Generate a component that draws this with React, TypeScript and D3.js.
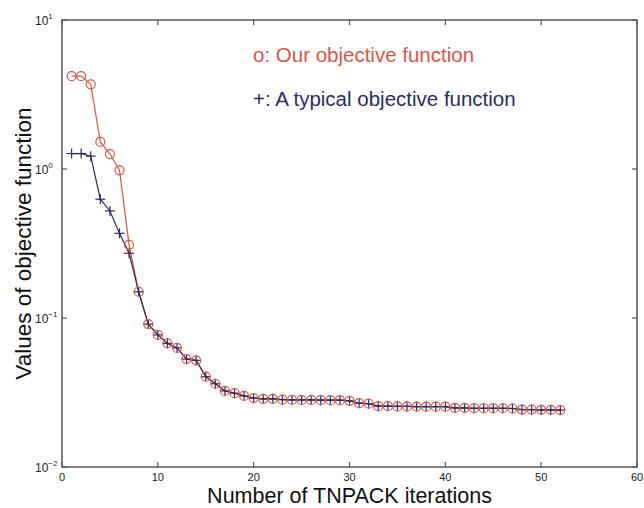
import React from "react";
import * as d3 from "d3";

const iterations = d3.range(1, 53);
const ourValues = [
  4.2, 4.2, 3.7, 1.52, 1.26, 0.98, 0.31, 0.15, 0.091, 0.077,
  0.0676, 0.063, 0.053, 0.052, 0.0404, 0.0362, 0.0324, 0.0313, 0.03, 0.029,
  0.0287, 0.0287, 0.0283, 0.0282, 0.0282, 0.0282, 0.0281, 0.0281, 0.0281, 0.0278,
  0.0268, 0.0266, 0.0256, 0.0256, 0.0255, 0.0255, 0.0254, 0.0254, 0.0254, 0.0254,
  0.0249, 0.0249, 0.0248, 0.0248, 0.0248, 0.0248, 0.0247, 0.0243, 0.0243, 0.0242,
  0.0242, 0.0241,
];
const typicalValues = [
  1.27, 1.27, 1.22, 0.627, 0.523, 0.37, 0.272, 0.15, 0.091, 0.077,
  0.0676, 0.063, 0.053, 0.052, 0.0404, 0.0362, 0.0324, 0.0313, 0.03, 0.029,
  0.0287, 0.0287, 0.0283, 0.0282, 0.0282, 0.0282, 0.0281, 0.0281, 0.0281, 0.0278,
  0.0268, 0.0266, 0.0256, 0.0256, 0.0255, 0.0255, 0.0254, 0.0254, 0.0254, 0.0254,
  0.0249, 0.0249, 0.0248, 0.0248, 0.0248, 0.0248, 0.0247, 0.0243, 0.0243, 0.0242,
  0.0242, 0.0241,
];
const xTicks = [0, 10, 20, 30, 40, 50, 60];
const yTickExps = [1, 0, -1, -2];
const legendOur = "o: Our objective function";
const legendTypical = "+: A typical objective function";
const xLabel = "Number of TNPACK iterations";
const yLabel = "Values of objective function";

const RED = "#dc5446";
const BLUE = "#2c2b62";
const AXIS = "#555";
const FONT = "'Liberation Sans', Arial, Helvetica, sans-serif";

export default function App() {
  const left = 62, right = 637, top = 20, bottom = 467;
  const x = d3.scaleLinear().domain([0, 60]).range([left, right]);
  const y = d3.scaleLog().domain([0.01, 10]).range([bottom, top]);
  const line = d3
    .line<[number, number]>()
    .x((d) => x(d[0]))
    .y((d) => y(d[1]));
  const ourPts: [number, number][] = iterations.map((it, i) => [it, ourValues[i]]);
  const typPts: [number, number][] = iterations.map((it, i) => [it, typicalValues[i]]);
  const tl = 5;

  return (
    <svg
      width={644}
      height={508}
      style={{ position: "absolute", left: 0, top: 0, background: "#fff" }}
      fontFamily={FONT}
    >
      <rect x={0} y={0} width={644} height={508} fill="#fff" />
      <rect x={left} y={top} width={right - left} height={bottom - top} fill="none" stroke={AXIS} strokeWidth={1.5} />
      {xTicks.map((t) => (
        <g key={"xt" + t}>
          <line x1={x(t)} x2={x(t)} y1={bottom} y2={bottom - tl} stroke={AXIS} strokeWidth={1.2} />
          <line x1={x(t)} x2={x(t)} y1={top} y2={top + tl} stroke={AXIS} strokeWidth={1.2} />
          <text x={x(t)} y={481} textAnchor="middle" fontSize={11} fill="#222">
            {t}
          </text>
        </g>
      ))}
      {yTickExps.map((e) => {
        const yy = y(Math.pow(10, e));
        return (
          <g key={"yt" + e}>
            <line x1={left} x2={left + tl} y1={yy} y2={yy} stroke={AXIS} strokeWidth={1.2} />
            <line x1={right} x2={right - tl} y1={yy} y2={yy} stroke={AXIS} strokeWidth={1.2} />
            <text x={35} y={yy + 5} fontSize={12} fill="#222">
              10
              <tspan dy={-6} fontSize={8}>
                {String(e).replace("-", "\u2212")}
              </tspan>
            </text>
          </g>
        );
      })}
      <path d={line(ourPts) || ""} fill="none" stroke={RED} strokeWidth={1.2} />
      <path d={line(typPts) || ""} fill="none" stroke={BLUE} strokeWidth={1.2} />
      {typPts.map((p, i) => (
        <g key={"p" + i} stroke={BLUE} strokeWidth={1.2}>
          <line x1={x(p[0]) - 5} x2={x(p[0]) + 5} y1={y(p[1])} y2={y(p[1])} />
          <line x1={x(p[0])} x2={x(p[0])} y1={y(p[1]) - 5} y2={y(p[1]) + 5} />
        </g>
      ))}
      {ourPts.map((p, i) => (
        <circle key={"c" + i} cx={x(p[0])} cy={y(p[1])} r={4.5} fill="none" stroke={RED} strokeWidth={1.2} />
      ))}
      <text x={253} y={62} fontSize={20.5} fill={RED}>
        {legendOur}
      </text>
      <text x={253} y={106} fontSize={20.5} fill={BLUE}>
        {legendTypical}
      </text>
      <text x={(left + right) / 2} y={503} textAnchor="middle" fontSize={21.5} fill="#111">
        {xLabel}
      </text>
      <text
        transform={`translate(31,${(top + bottom) / 2}) rotate(-90)`}
        textAnchor="middle"
        fontSize={22.5}
        fill="#111"
      >
        {yLabel}
      </text>
    </svg>
  );
}
